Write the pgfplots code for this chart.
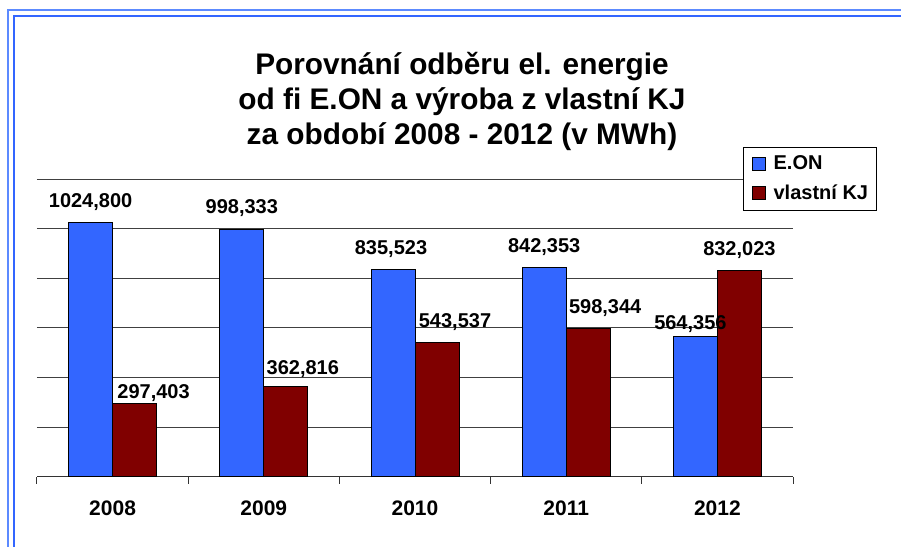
\documentclass[border=0pt]{standalone}
\usepackage{pgfplots}
\pgfplotsset{compat=1.18}
\usepackage{pgfplotstable}
\usepackage{fontspec}
\setmainfont{Liberation Sans}

\definecolor{eonblue}{HTML}{3366FF}
\definecolor{kjred}{HTML}{800000}
\definecolor{framelight}{HTML}{5C8AFF}

\pgfplotstableread{
x y lbl
1 1024.800 1024,800
2 998.333 998,333
3 835.523 835,523
4 842.353 842,353
5 564.356 564,356
}\eon
\pgfplotstableread{
x y lbl
1 297.403 297,403
2 362.816 362,816
3 543.537 543,537
4 598.344 598,344
5 832.023 832,023
}\kj

% label offsets (pt) as in the original, one per bar
\def\eondx{{0,0,-1,0,-2.5}}
\def\eondy{{7.5,8,7.5,7.5,3.5}}
\def\kjdx{{9.5,8.5,9,8.5,0}}
\def\kjdy{{2.5,6,7.5,7.5,7.5}}

\begin{document}
\begin{tikzpicture}[x=0.5pt,y=0.5pt]
\useasboundingbox (0,0) rectangle (901,547);
\begin{scope}
\clip (0,0) rectangle (901,547);
\draw[framelight, line width=1pt] (8,-13) -- (8,537) -- (920,537);
\draw[eonblue, line width=1pt] (14,-13) -- (14,531) -- (920,531);
\end{scope}

\node[anchor=base, font=\bfseries\fontsize{14.9}{17.5}\selectfont] at (462,472) {Porovnání odběru el. energie};
\node[anchor=base, font=\bfseries\fontsize{14.9}{17.5}\selectfont] at (462,437) {od fi E.ON a výroba z vlastní KJ};
\node[anchor=base, font=\bfseries\fontsize{14.9}{17.5}\selectfont] at (462,402) {za období 2008 - 2012 (v MWh)};

\begin{axis}[
  at={(18.5pt,35pt)}, anchor=south west,
  scale only axis,
  width=378pt, height=149pt,
  ybar=0pt, bar width=22pt,
  xmin=0.5, xmax=5.5,
  ymin=0, ymax=1200,
  xtick={1,2,3,4,5},
  xticklabels={2008,2009,2010,2011,2012},
  minor xtick={0.5,1.5,2.5,3.5,4.5,5.5},
  ytick={200,400,600,800,1000,1200},
  yticklabels={},
  ymajorgrids,
  major grid style={black!75, line width=0.5pt},
  axis x line*=bottom,
  axis y line*=left,
  y axis line style={draw=none},
  ytick style={draw=none},
  axis line style={black!80, line width=0.5pt},
  tick align=outside,
  major tick length=0pt,
  minor tick length=3.5pt,
  minor tick style={black!80, line width=0.5pt},
  xticklabel style={anchor=base, yshift=-19.5pt, font=\bfseries\fontsize{10.5}{12}\selectfont},
  clip=false,
  point meta=explicit symbolic,
  nodes near coords={\pgfplotspointmeta},
  visualization depends on={value \coordindex \as \idx},
  every node near coord/.append style={anchor=base, inner sep=0pt,
    font=\bfseries\fontsize{10}{12}\selectfont},
  legend style={at={(0.934,1.107)}, anchor=north west,
    draw=black, line width=0.5pt, inner xsep=2pt, inner ysep=2pt,
    font=\bfseries\fontsize{10}{12}\selectfont,
    row sep=2pt, cells={anchor=west}},
  legend image code/.code={\draw[#1, draw=black, line width=0.5pt] (2.5pt,-3.25pt) rectangle (9pt,3.25pt);
    \path[draw=none, fill=none] (0pt,0pt) rectangle (11pt,0.1pt);},
]
\addplot[fill=eonblue, draw=black, line width=0.5pt,
  every node near coord/.append style={xshift=\eondx[\idx]*1pt, yshift=\eondy[\idx]*1pt}]
  table[x=x, y=y, meta=lbl]{\eon};
\addplot[fill=kjred, draw=black, line width=0.5pt,
  every node near coord/.append style={xshift=\kjdx[\idx]*1pt, yshift=\kjdy[\idx]*1pt}]
  table[x=x, y=y, meta=lbl]{\kj};
\legend{E.ON, vlastní KJ}
\end{axis}
\end{tikzpicture}
\end{document}
